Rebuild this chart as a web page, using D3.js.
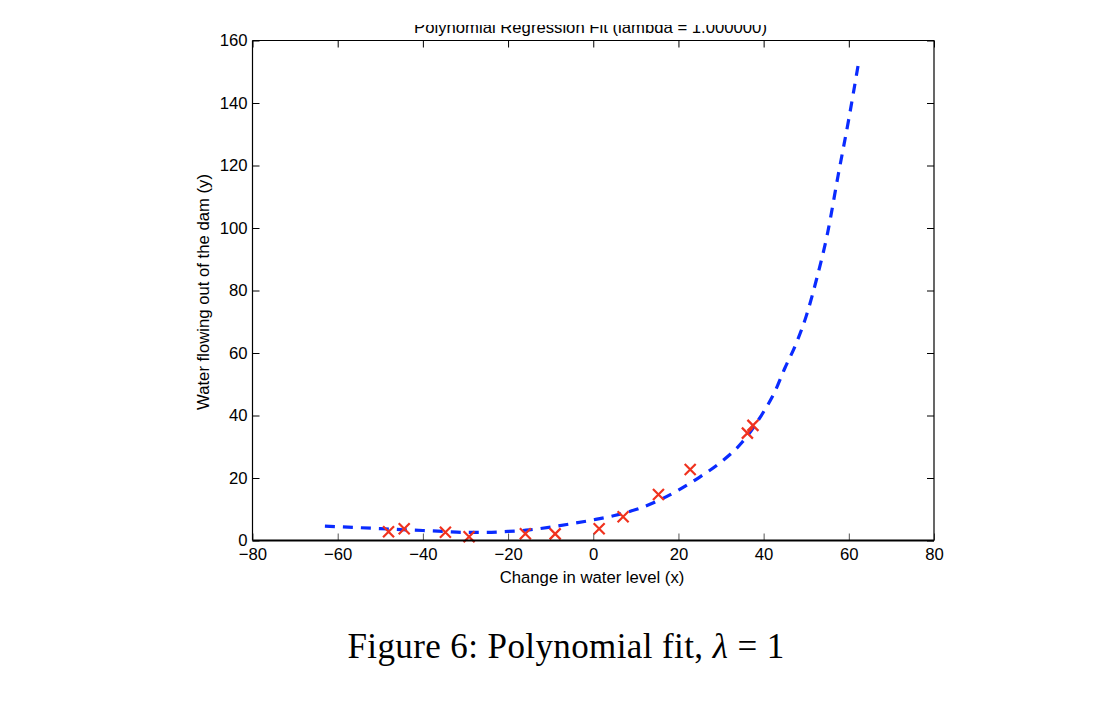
<!DOCTYPE html>
<html>
<head>
<meta charset="utf-8">
<script src="https://cdn.jsdelivr.net/npm/d3@7"></script>
<style>
  html, body { margin: 0; padding: 0; background: #fff; }
  svg { display: block; }
  .tick text { font-family: "Liberation Sans", Arial, sans-serif; font-size: 16.7px; fill: #000; }
</style>
</head>
<body>
<svg id="chart" width="1106" height="714"></svg>
<script>
// ---- data ----
const dataX = [-15.94, -29.15, 36.19, 37.49, -48.06, -8.94, 15.31, -34.71, 1.39, -44.38, 7.01, 22.76];
const dataY = [2.13, 1.17, 34.36, 36.84, 2.81, 2.12, 14.71, 2.61, 3.74, 3.73, 7.63, 22.75];

const fitX = [-63, -55, -50, -45, -40, -35, -30, -25, -20, -15, -10, -5, 0, 5, 10, 15, 20, 25, 30, 35, 40, 42.5, 45, 47.5, 50, 52.5, 55, 57.5, 60, 62.3];
const fitY = [4.6, 4.1, 3.8, 3.5, 3.2, 2.9, 2.6, 2.6, 2.9, 3.4, 4.3, 5.4, 6.6, 8.0, 9.9, 12.6, 16.1, 20.3, 25.1, 31.5, 41.2, 47.2, 55.2, 62.6, 71.8, 84.0, 98.3, 116.9, 134.9, 153.0];

const xTicks = [-80, -60, -40, -20, 0, 20, 40, 60, 80];
const yTicks = [0, 20, 40, 60, 80, 100, 120, 140, 160];

const titleText = "Polynomial Regression Fit (lambda = 1.000000)";
const xLabelText = "Change in water level (x)";
const yLabelText = "Water flowing out of the dam (y)";

// ---- layout ----
const svg = d3.select("#chart");
const L = 252.5, R = 934, T = 40.5, B = 540.5;
const x = d3.scaleLinear().domain([-80, 80]).range([L, R]);
const y = d3.scaleLinear().domain([0, 160]).range([B, T]);
const fmt = d => (d < 0 ? "\u2212" + Math.abs(d) : String(d));
const sans = '"Liberation Sans", Arial, Helvetica, sans-serif';
const fs = "16.7px";

// clip path for the cropped title (reference shows only its lower part)
svg.append("defs").append("clipPath").attr("id", "titleClip")
  .append("rect").attr("x", 0).attr("y", 25).attr("width", 1106).attr("height", 40);

// fit curve
const fitData = fitX.map((v, i) => [v, fitY[i]]);
const line = d3.line().x(d => x(d[0])).y(d => y(d[1])).curve(d3.curveMonotoneX);
svg.append("path")
  .datum(fitData)
  .attr("d", line)
  .attr("fill", "none")
  .attr("stroke", "#0a2bff")
  .attr("stroke-width", 3.2)
  .attr("stroke-dasharray", "10,8");

// data markers (x shape)
const pts = dataX.map((v, i) => [v, dataY[i]]);
const s = 5.5;
const g = svg.append("g");
pts.forEach(p => {
  const cx = x(p[0]), cy = y(p[1]);
  g.append("path")
    .attr("d", `M${cx - s},${cy - s}L${cx + s},${cy + s}M${cx - s},${cy + s}L${cx + s},${cy - s}`)
    .attr("stroke", "#f0321e")
    .attr("stroke-width", 2.2)
    .attr("fill", "none");
});

// axes
const ax = svg.append("g").attr("transform", `translate(0,${B})`)
  .call(d3.axisBottom(x).tickValues(xTicks).tickFormat(fmt).tickSize(-7).tickPadding(8));
ax.select(".domain").remove();
ax.selectAll(".tick line").attr("stroke", "#555");
ax.selectAll(".tick text").attr("dy", "0.71em");

const axTop = svg.append("g").attr("transform", `translate(0,${T})`)
  .call(d3.axisTop(x).tickValues(xTicks).tickFormat("").tickSize(-7));
axTop.select(".domain").remove();

const ay = svg.append("g").attr("transform", `translate(${L},0)`)
  .call(d3.axisLeft(y).tickValues(yTicks).tickFormat(fmt).tickSize(-7).tickPadding(5));
ay.select(".domain").remove();
ay.selectAll(".tick text").attr("dy", "0.3em");

const ayR = svg.append("g").attr("transform", `translate(${R},0)`)
  .call(d3.axisRight(y).tickValues(yTicks).tickFormat("").tickSize(-7));
ayR.select(".domain").remove();

// box
svg.append("line").attr("x1", L).attr("x2", R).attr("y1", T).attr("y2", T).attr("stroke", "#000").attr("stroke-width", 1.2);
svg.append("line").attr("x1", L).attr("x2", L).attr("y1", T).attr("y2", B).attr("stroke", "#000").attr("stroke-width", 1.2);
svg.append("line").attr("x1", R).attr("x2", R).attr("y1", T).attr("y2", B).attr("stroke", "#000").attr("stroke-width", 1.2);
svg.append("line").attr("x1", L).attr("x2", R).attr("y1", B).attr("y2", B).attr("stroke", "#000").attr("stroke-width", 2);

// title (cropped at top as in reference)
svg.append("text")
  .attr("clip-path", "url(#titleClip)")
  .attr("x", 590.5).attr("y", 32.5)
  .attr("text-anchor", "middle")
  .style("font-family", sans).style("font-size", fs)
  .text(titleText);

// axis labels
svg.append("text")
  .attr("x", 592).attr("y", 583)
  .attr("text-anchor", "middle")
  .style("font-family", sans).style("font-size", fs)
  .text(xLabelText);

svg.append("text")
  .attr("transform", "translate(209,292) rotate(-90)")
  .attr("text-anchor", "middle")
  .style("font-family", sans).style("font-size", fs)
  .text(yLabelText);

// caption
const cap = svg.append("text")
  .attr("x", 566).attr("y", 658)
  .attr("text-anchor", "middle")
  .style("font-family", '"Liberation Serif", "DejaVu Serif", serif')
  .style("font-size", "35px")
  .style("letter-spacing", "0.4px");
cap.append("tspan").text("Figure 6:  Polynomial fit, ");
cap.append("tspan").style("font-style", "italic").text("\u03bb");
cap.append("tspan").text(" = 1");
</script>
</body>
</html>
